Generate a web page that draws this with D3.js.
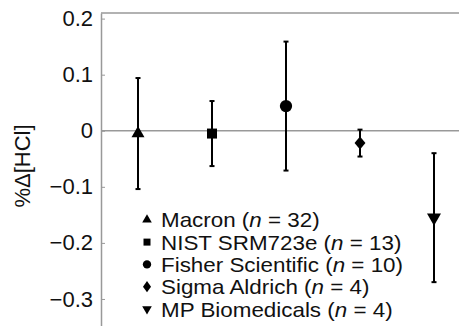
<!DOCTYPE html>
<html>
<head>
<meta charset="utf-8">
<script src="https://cdn.jsdelivr.net/npm/d3@7"></script>
<style>
  body { margin: 0; background: #fff; }
  text { font-family: Arial, "Liberation Sans", sans-serif; }
</style>
</head>
<body>
<div id="chart"></div>
<script>
// suppliers, mean %Δ[HCl] and standard deviation
const categories = ['Macron', 'NIST SRM723e', 'Fisher Scientific', 'Sigma Aldrich', 'MP Biomedicals'];
const counts = [32, 13, 10, 4, 4];
const means = [-0.005, -0.005, 0.044, -0.022, -0.155];
const sds = [0.099, 0.058, 0.115, 0.024, 0.115];
const yTicks = [0.2, 0.1, 0, -0.1, -0.2, -0.3];

const width = 459;
const height = 326;

const svg = d3.select('#chart')
  .append('svg')
  .attr('width', width)
  .attr('height', height);

const x = d3.scaleLinear()
  .domain([0.5, 5.5])
  .range([101, 471]);

const y = d3.scaleLinear()
  .domain([0.21, -0.35])
  .range([13, 327]);

const axisColor = '#999';

// top border and zero line
svg.append('line')
  .attr('x1', 101).attr('x2', width)
  .attr('y1', y(0.21)).attr('y2', y(0.21))
  .attr('stroke', axisColor).attr('stroke-width', 1.5);

svg.append('line')
  .attr('x1', 101).attr('x2', width)
  .attr('y1', y(0)).attr('y2', y(0))
  .attr('stroke', axisColor).attr('stroke-width', 1.5);

// y axis
const fmt = d => d === 0 ? '0' : (d < 0 ? '\u2212' : '') + Math.abs(d).toFixed(1);
const yAxis = svg.append('g')
  .attr('transform', 'translate(101,0)')
  .call(d3.axisLeft(y).tickValues(yTicks).tickFormat(fmt).tickSize(-4).tickSizeOuter(0).tickPadding(8));

yAxis.select('.domain').attr('stroke', axisColor).attr('stroke-width', 1.5);
yAxis.selectAll('.tick line').attr('stroke', axisColor);
yAxis.selectAll('.tick text')
  .attr('font-size', '22px')
  .attr('fill', '#111')
  .attr('font-family', 'Arial, "Liberation Sans", sans-serif');

// y label
svg.append('text')
  .attr('transform', 'translate(30,166) rotate(-90)')
  .attr('text-anchor', 'middle')
  .attr('font-size', '22px')
  .attr('fill', '#111')
  .text('%\u0394[HCl]');

// sx stretches the diamond a bit wider than d3's default
const bigSymbols = [
  { type: d3.symbolTriangle, size: 73, rot: 0, sx: 1 },
  { type: d3.symbolSquare, size: 100, rot: 0, sx: 1 },
  { type: d3.symbolCircle, size: 119, rot: 0, sx: 1 },
  { type: d3.symbolDiamond, size: 49, rot: 0, sx: 1.45 },
  { type: d3.symbolTriangle, size: 85, rot: 180, sx: 1 }
];
const smallSymbols = [
  { type: d3.symbolTriangle, size: 40, rot: 0, sx: 1 },
  { type: d3.symbolSquare, size: 49, rot: 0, sx: 1 },
  { type: d3.symbolCircle, size: 55, rot: 0, sx: 1 },
  { type: d3.symbolDiamond, size: 36, rot: 0, sx: 1.25 },
  { type: d3.symbolTriangle, size: 40, rot: 180, sx: 1 }
];

const idx = d3.range(categories.length);

// error bars
const bars = svg.selectAll('g.err')
  .data(idx)
  .enter().append('g')
  .attr('class', 'err');

bars.append('line')
  .attr('x1', i => x(i + 1)).attr('x2', i => x(i + 1))
  .attr('y1', i => y(means[i] + sds[i]))
  .attr('y2', i => y(means[i] - sds[i]))
  .attr('stroke', '#000').attr('stroke-width', 2);

[1, -1].forEach(s => {
  bars.append('line')
    .attr('x1', i => x(i + 1) - 2.5).attr('x2', i => x(i + 1) + 2.5)
    .attr('y1', i => y(means[i] + s * sds[i]))
    .attr('y2', i => y(means[i] + s * sds[i]))
    .attr('stroke', '#000').attr('stroke-width', 2);
});

// markers
svg.selectAll('path.mark')
  .data(idx)
  .enter().append('path')
  .attr('class', 'mark')
  .attr('d', i => d3.symbol(bigSymbols[i].type, bigSymbols[i].size)())
  .attr('transform', i => `translate(${x(i + 1)},${y(means[i])}) rotate(${bigSymbols[i].rot}) scale(${bigSymbols[i].sx},1)`)
  .attr('fill', '#000');

// legend
const rowH = 22.3;
const legend = svg.append('g').attr('transform', 'translate(147,205)');

legend.selectAll('path')
  .data(idx)
  .enter().append('path')
  .attr('d', i => d3.symbol(smallSymbols[i].type, smallSymbols[i].size)())
  .attr('transform', i => `translate(0,${(i + 1) * rowH - 7.5}) rotate(${smallSymbols[i].rot}) scale(${smallSymbols[i].sx},1)`)
  .attr('fill', '#000');

// rows are tight, so a 20px font is widened a little instead of made bigger
const lt = legend.selectAll('text')
  .data(idx)
  .enter().append('text')
  .attr('transform', i => `translate(14,${(i + 1) * rowH}) scale(1.12,1)`)
  .attr('font-size', '20px')
  .attr('fill', '#111');

lt.append('tspan').text(i => categories[i] + ' (');
lt.append('tspan').attr('font-style', 'italic').text('n');
lt.append('tspan').text(i => ' = ' + counts[i] + ')');
</script>
</body>
</html>
